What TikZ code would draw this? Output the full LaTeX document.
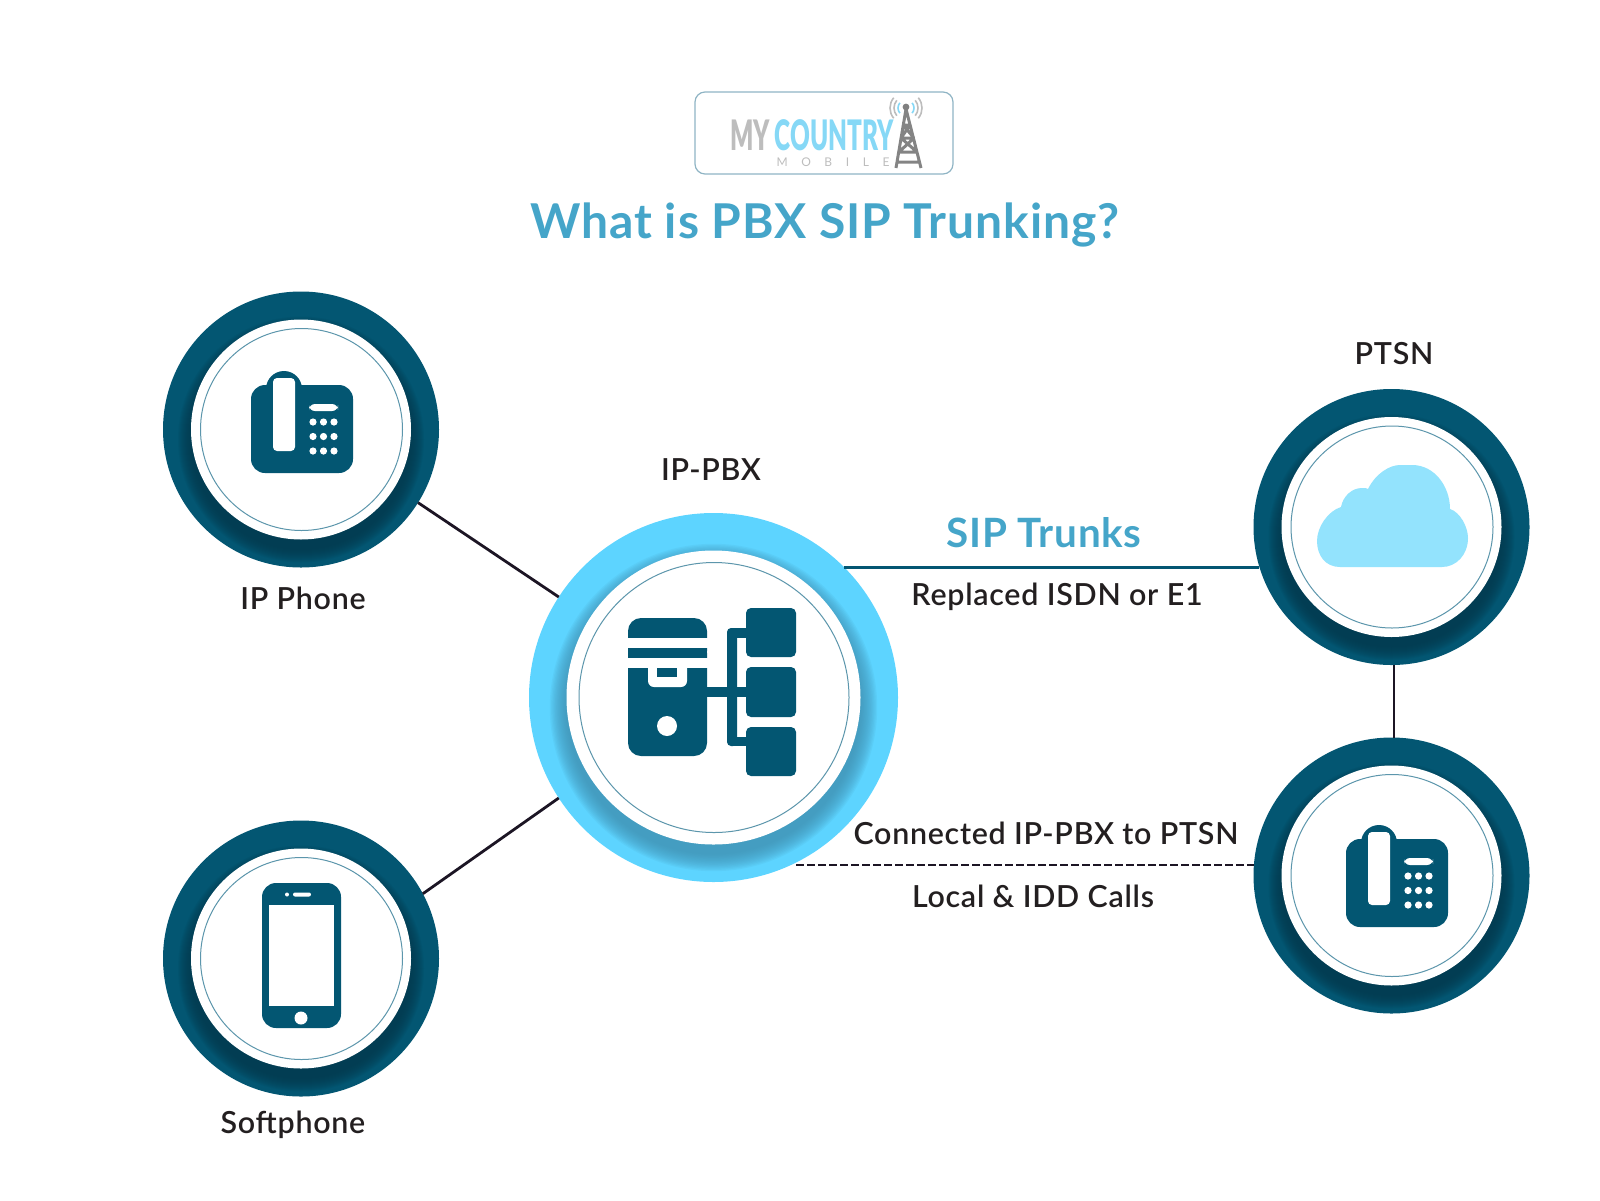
\documentclass[tikz,border=0pt]{standalone}
\usepackage{fontspec}
\setmainfont{Lato}
\newfontfamily\labelfont{Lato Semibold}[LetterSpace=2.4]
\newfontfamily\headfont{Lato Bold}[LetterSpace=1.9]
\newfontfamily\logofont{Lato Black}
\definecolor{teal1}{HTML}{035672}
\definecolor{teal2}{HTML}{02384C}
\definecolor{sky}{HTML}{5DD4FF}
\definecolor{skydark}{HTML}{3F8FB0}
\definecolor{cloudc}{HTML}{93E3FD}
\definecolor{titlec}{HTML}{45A5C9}
\definecolor{inkc}{HTML}{231F20}
\definecolor{linkc}{HTML}{1C1524}
\definecolor{thinc}{HTML}{5C96AC}
\definecolor{logoc}{HTML}{8FB4C4}
\definecolor{logob}{HTML}{86D8F6}
\definecolor{logog}{HTML}{BDBDBD}
\tikzset{
  ring/.style={circle,draw=none,fill=teal1,minimum size=276*0.5pt,inner sep=0pt,outer sep=0pt},
  bigring/.style={circle,draw=none,fill=sky,minimum size=369*0.5pt,inner sep=0pt,outer sep=0pt},
  lbl/.style={font=\labelfont\fontsize{15.2}{18}\selectfont,text=inkc,inner sep=0pt},
  blu/.style={font=\headfont\fontsize{20.2}{22}\selectfont,text=titlec,inner sep=0pt},
  link/.style={draw=linkc,line width=1.4pt},
  icon/.style={fill=teal1,draw=none},
  hole/.style={fill=white,draw=none},
}
% #1 cx, #2 cy, #3 white radius, #4 thin radius, #5 outer radius, #6 shadow colour, #7 offset, #8 extent
\newcommand{\ringparts}[8]{%
  \begin{scope}
    \clip (#1,#2) circle [radius=#5];
    \foreach \i in {1,...,14}{
      \fill[#6,opacity=0.09] (#1,#2+#7) circle [radius=#3+#8-\i*#8/14];
    }
  \end{scope}
  \fill[white] (#1,#2) circle [radius=#3];
  \draw[thinc,line width=0.5pt] (#1+0.5,#2) circle [radius=#4];
}
\newcommand{\deskphone}[2]{%
  \begin{scope}[shift={(#1,#2)}]
    \fill[icon,rounded corners=7pt] (0,14) rectangle (102,102);
    \fill[icon,rounded corners=9pt] (15,0) rectangle (51,40);
    \fill[hole,rounded corners=2pt] (22,7) rectangle (44,80);
    \fill[hole,rounded corners=3pt] (58,33) rectangle (87,40);
    \foreach \a in {62,72.5,83}{\foreach \b in {51,65.5,80}{\fill[hole] (\a,\b) circle [radius=3.6];}}
  \end{scope}}
\begin{document}
\begin{tikzpicture}[x=0.5pt,y=-0.5pt]
\useasboundingbox (0,0) rectangle (1600,1200);
% logo
\node[draw=logoc,line width=0.6pt,rounded corners=5pt,minimum width=129pt,minimum height=41pt,inner sep=0pt] (logo) at (824,133) {};
\node[inner sep=0pt,text=logog] (lmy) at (750,135) {\logofont\fontsize{21}{22}\selectfont\scalebox{0.58}[1]{MY}};
\node[inner sep=0pt,text=logob] (lcountry) at (834,135) {\logofont\fontsize{21}{22}\selectfont\scalebox{0.58}[1]{COUNTRY}};
\node[inner sep=0pt,text=logog] (lmobile) at (833,162.5) {\fontsize{6}{7}\selectfont M\hspace{6.8pt}O\hspace{6.8pt}B\hspace{6.8pt}I\hspace{6.8pt}L\hspace{6.8pt}E};
% tower
\draw[logog!70!black,line width=1.5pt,line join=round] (906,109) -- (896,168) (906,109) -- (921,168)
   (903,125) -- (910,125) (901,138) -- (914,138) (899,152) -- (917,152) (897,162)--(919,162)
   (903,125) -- (914,138) (910,125) -- (901,138) (901,138) -- (917,152) (914,138) -- (899,152);
\fill[gray] (906,107) circle [radius=3.4];
\foreach \r/\c in {8/logob,12/logog,16/logog}{
  \draw[\c,line width=0.8pt] ([shift={(140:\r)}]906,108) arc [start angle=140,end angle=220,radius=\r];
  \draw[\c,line width=0.8pt] ([shift={(-40:\r)}]906,108) arc [start angle=-40,end angle=40,radius=\r];
}
% title
\node[font=\headfont\fontsize{24}{28}\selectfont,text=titlec,inner sep=0pt] (title) at (825,225) {What is PBX SIP Trunking?};
% rings
\node[ring] (ipphone) at (301,429.5) {};
\node[ring] (soft) at (301,958.5) {};
\node[ring] (ptsn) at (1391.5,527) {};
\node[ring] (desk) at (1391.5,875.5) {};
\node[bigring] (pbx) at (713.5,697.5) {};
\ringparts{301}{429.5}{110}{101}{138}{teal2}{10}{14}
\ringparts{301}{958.5}{110}{101}{138}{teal2}{10}{14}
\ringparts{1391.5}{527}{110}{101}{138}{teal2}{10}{14}
\ringparts{1391.5}{875.5}{110}{101}{138}{teal2}{10}{14}
\ringparts{713.5}{697.5}{147}{135}{184.5}{skydark}{10}{18}
% connectors
\draw[link] (ipphone.-32) -- (pbx.147.6);
\draw[link] (soft.28.2) -- (pbx.213.4);
\draw[draw=teal1,line width=1.5pt] (pbx.45.9) -- (pbx.45.9 -| ptsn.196.4);
\draw[link] (ptsn.271.9) -- (ptsn.271.9 |- desk.north);
\draw[draw=linkc,line width=1pt,dash pattern=on 3.6pt off 1.9pt,shorten <=2.5pt] (pbx.-65) -- (pbx.-65 -| desk.175);
% labels
\node[lbl] (lpbx) at (711,470) {IP-PBX};
\node[lbl] (lip) at (303,598.5) {IP Phone};
\node[lbl] (lsoft) at (293,1124.5) {Softphone};
\node[lbl] (lptsn) at (1394,354) {PTSN};
\node[blu] (ltrunk) at (1044,533) {SIP Trunks};
\node[lbl] (lrep) at (1057,596.5) {Replaced ISDN or E1};
\node[lbl] (lconn) at (1046,833) {Connected IP-PBX to PTSN};
\node[lbl] (llocal) at (1033,896) {Local \& IDD Calls};
% desk phones
\deskphone{251}{371}
\deskphone{1346}{825}
% softphone icon
\fill[icon,rounded corners=7pt] (262,883) rectangle (341,1028);
\fill[hole] (269,905) rectangle (334,1006);
\fill[hole] (287,894.5) circle [radius=2];
\fill[hole,rounded corners=1pt] (293,892.5) rectangle (311,896.5);
\fill[hole] (301,1018) circle [radius=6.5];
% cloud
\fill[cloudc] (1340,567) .. controls (1325,567) and (1317,555) .. (1317,541)
  .. controls (1317,527) and (1328,511) .. (1341,507)
  .. controls (1343,496) and (1352,488) .. (1362,488)
  .. controls (1365,488) and (1367,488) .. (1368,489)
  .. controls (1376,473) and (1390,465) .. (1400,465)
  -- (1412,465)
  .. controls (1435,465) and (1450,487) .. (1450,509)
  .. controls (1460,512) and (1468,527) .. (1468,538)
  .. controls (1468,555) and (1456,567) .. (1442,567) -- cycle;
% server icon
\fill[icon,rounded corners=6.5pt] (628,618) rectangle (707,664);
\fill[icon,rounded corners=6.5pt] (628,640) rectangle (707,756);
\fill[hole] (620,638) rectangle (715,648);
\fill[icon] (628,648) rectangle (707,657.5);
\fill[hole] (620,657.5) rectangle (715,668);
\fill[hole,rounded corners=3pt] (648,660) rectangle (687,687);
\fill[icon] (657,668) rectangle (677,677);
\fill[hole] (667,726) circle [radius=10];
\fill[icon] (707,687) rectangle (746,697);
\fill[icon,rounded corners=2pt] (727,628) rectangle (737,746);
\fill[icon] (732,628) rectangle (746,637.5);
\fill[icon] (732,736.5) rectangle (746,746);
\fill[icon,rounded corners=2.5pt] (746,608) rectangle (796,657);
\fill[icon,rounded corners=2.5pt] (746,667) rectangle (796,717);
\fill[icon,rounded corners=2.5pt] (746,727) rectangle (796,776);
\end{tikzpicture}
\end{document}
